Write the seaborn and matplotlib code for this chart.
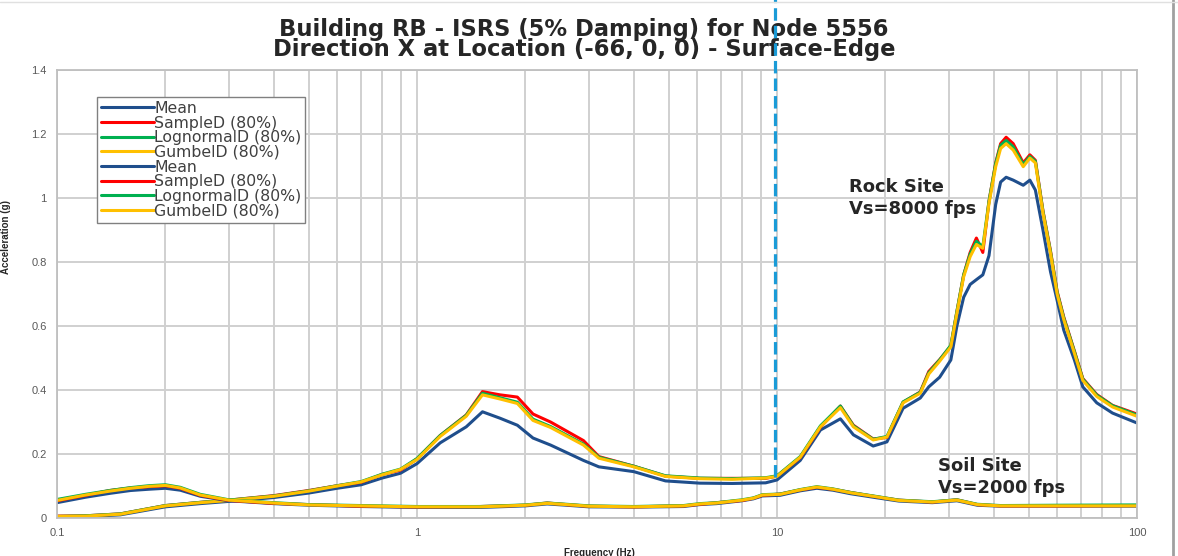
import numpy as np
import pandas as pd
import matplotlib.pyplot as plt
import seaborn as sns
from matplotlib.ticker import LogLocator, NullFormatter, NullLocator
from matplotlib.lines import Line2D

sns.set_style('white')
plt.rcParams['font.family'] = ['Liberation Sans', 'DejaVu Sans']

# Rock site (Vs=8000 fps) spectra
rock_freq = [0.1, 0.12, 0.15, 0.2, 0.25, 0.3, 0.4, 0.5, 0.6, 0.7,
             0.8, 0.9, 1.0, 1.16, 1.37, 1.52, 1.7, 1.9, 2.1, 2.35,
             2.9, 3.2, 4.0, 4.9, 6.1, 7.5, 9.3, 10.0, 11.6, 13.2,
             15.0, 16.3, 18.5, 20.2, 22.4, 25.0, 26.4, 28.3, 30.4, 31.6,
             33.0, 34.4, 35.8, 37.3, 38.8, 40.5, 41.8, 43.3, 45.3, 48.3,
             50.4, 52.2, 54.8, 57.5, 60.0, 62.6, 67.0, 70.7, 77.3, 85.5,
             100.0]
rock_mean = [0.003, 0.004, 0.010, 0.035, 0.045, 0.052, 0.064, 0.078, 0.093, 0.104,
             0.125, 0.140, 0.170, 0.235, 0.285, 0.332, 0.312, 0.290, 0.250, 0.228,
             0.180, 0.160, 0.145, 0.116, 0.109, 0.108, 0.110, 0.119, 0.180, 0.275,
             0.310, 0.260, 0.225, 0.238, 0.343, 0.375, 0.410, 0.440, 0.494, 0.600,
             0.690, 0.730, 0.745, 0.760, 0.820, 0.980, 1.050, 1.065, 1.056, 1.040,
             1.056, 1.025, 0.900, 0.770, 0.680, 0.587, 0.494, 0.410, 0.360, 0.328,
             0.297]
rock_sample = [0.006, 0.007, 0.013, 0.039, 0.049, 0.056, 0.070, 0.086, 0.101, 0.112,
               0.136, 0.150, 0.185, 0.258, 0.322, 0.395, 0.385, 0.378, 0.325, 0.300,
               0.242, 0.192, 0.162, 0.131, 0.124, 0.124, 0.124, 0.131, 0.189, 0.284,
               0.350, 0.290, 0.247, 0.252, 0.362, 0.394, 0.458, 0.495, 0.538, 0.645,
               0.760, 0.830, 0.875, 0.830, 0.990, 1.110, 1.170, 1.190, 1.170, 1.110,
               1.135, 1.118, 0.960, 0.835, 0.708, 0.628, 0.522, 0.436, 0.386, 0.352,
               0.325]
rock_lognormal = [0.005, 0.007, 0.013, 0.039, 0.049, 0.056, 0.069, 0.085, 0.101, 0.114,
                  0.137, 0.153, 0.186, 0.258, 0.321, 0.390, 0.376, 0.362, 0.309, 0.286,
                  0.231, 0.190, 0.162, 0.132, 0.125, 0.123, 0.126, 0.132, 0.192, 0.288,
                  0.350, 0.288, 0.246, 0.255, 0.363, 0.393, 0.454, 0.494, 0.540, 0.646,
                  0.760, 0.825, 0.865, 0.848, 0.990, 1.108, 1.165, 1.180, 1.160, 1.105,
                  1.130, 1.115, 0.958, 0.832, 0.705, 0.625, 0.520, 0.434, 0.384, 0.351,
                  0.322]
rock_gumbel = [0.005, 0.006, 0.012, 0.038, 0.048, 0.055, 0.068, 0.084, 0.100, 0.113,
               0.135, 0.152, 0.183, 0.255, 0.318, 0.385, 0.372, 0.358, 0.305, 0.283,
               0.228, 0.187, 0.160, 0.130, 0.123, 0.121, 0.125, 0.130, 0.190, 0.285,
               0.345, 0.285, 0.244, 0.253, 0.360, 0.390, 0.450, 0.490, 0.535, 0.640,
               0.754, 0.817, 0.855, 0.843, 0.983, 1.098, 1.155, 1.170, 1.150, 1.098,
               1.125, 1.110, 0.953, 0.827, 0.700, 0.620, 0.515, 0.430, 0.380, 0.347,
               0.318]

# Soil site (Vs=2000 fps) spectra
soil_freq = [0.1, 0.12, 0.14, 0.16, 0.18, 0.2, 0.22, 0.25, 0.3, 0.4,
             0.5, 0.7, 1.0, 1.5, 2.0, 2.3, 2.6, 3.0, 4.0, 5.5,
             6.1, 6.8, 8.0, 8.6, 9.1, 10.2, 11.6, 12.9, 14.3, 16.0,
             19.0, 21.8, 27.0, 31.6, 36.0, 41.7, 60.0, 100.0]
soil_mean = [0.048, 0.065, 0.077, 0.086, 0.090, 0.093, 0.087, 0.068, 0.054, 0.045,
             0.040, 0.036, 0.033, 0.033, 0.038, 0.044, 0.040, 0.035, 0.034, 0.036,
             0.042, 0.045, 0.054, 0.060, 0.069, 0.071, 0.085, 0.093, 0.087, 0.076,
             0.063, 0.053, 0.048, 0.054, 0.040, 0.037, 0.037, 0.037]
soil_sample = [0.054, 0.071, 0.086, 0.094, 0.098, 0.101, 0.093, 0.071, 0.055, 0.046,
               0.042, 0.037, 0.035, 0.036, 0.040, 0.047, 0.042, 0.037, 0.035, 0.038,
               0.043, 0.048, 0.055, 0.062, 0.071, 0.075, 0.088, 0.096, 0.090, 0.080,
               0.066, 0.056, 0.050, 0.057, 0.042, 0.038, 0.038, 0.039]
soil_lognormal = [0.058, 0.074, 0.086, 0.095, 0.101, 0.104, 0.096, 0.074, 0.057, 0.048,
                  0.042, 0.039, 0.036, 0.036, 0.041, 0.047, 0.043, 0.038, 0.036, 0.039,
                  0.045, 0.048, 0.057, 0.063, 0.073, 0.075, 0.089, 0.098, 0.091, 0.080,
                  0.067, 0.056, 0.051, 0.057, 0.043, 0.039, 0.040, 0.041]
soil_gumbel = [0.055, 0.072, 0.084, 0.093, 0.099, 0.102, 0.094, 0.072, 0.056, 0.047,
               0.041, 0.038, 0.035, 0.035, 0.040, 0.046, 0.042, 0.037, 0.035, 0.038,
               0.044, 0.047, 0.056, 0.062, 0.072, 0.074, 0.088, 0.097, 0.090, 0.079,
               0.066, 0.055, 0.050, 0.056, 0.042, 0.038, 0.038, 0.038]

labels = ['Mean', 'SampleD (80%)', 'LognormalD (80%)', 'GumbelD (80%)']
colors = ['#1f4e8c', '#ff0000', '#00b050', '#ffc000']
marker_freq = 9.87

fig = plt.figure(figsize=(11.78, 5.56), dpi=100)
ax = fig.add_axes([0.0484, 0.0683, 0.9168, 0.8057])

rock = [rock_mean, rock_sample, rock_lognormal, rock_gumbel]
soil = [soil_mean, soil_sample, soil_lognormal, soil_gumbel]

for vals, lab, col in zip(rock, labels, colors):
    sns.lineplot(x=rock_freq, y=vals, color=col, lw=2.2, label=lab, ax=ax)
for vals, lab, col in zip(soil, labels, colors):
    sns.lineplot(x=soil_freq, y=vals, color=col, lw=2.2, label=lab, ax=ax)

ax.set_xscale('log')
ax.set_xlim(0.1, 100)
ax.set_ylim(0, 1.4)
ax.set_xticks([0.1, 1, 10, 100])
ax.set_xticklabels(['0.1', '1', '10', '100'])
ax.xaxis.set_minor_locator(LogLocator(base=10, subs=np.arange(2, 10)))
ax.xaxis.set_minor_formatter(NullFormatter())
ax.set_yticks(np.arange(0, 1.41, 0.2))
ax.set_yticklabels(['0', '0.2', '0.4', '0.6', '0.8', '1', '1.2', '1.4'])
ax.yaxis.set_minor_locator(NullLocator())
ax.grid(True, which='both', color='#d0d0d0', lw=1.4)
ax.set_axisbelow(True)
ax.tick_params(axis='both', which='major', labelsize=8, labelcolor='#595959',
               color='#a6a6a6', length=4, width=1, direction='out')
ax.tick_params(axis='x', which='minor', length=0)
for sp in ax.spines.values():
    sp.set_color('#bfbfbf')
    sp.set_linewidth(1.3)

wide = ['DejaVu Sans']
ax.set_title('Building RB - ISRS (5% Damping) for Node 5556\n'
             'Direction X at Location (-66, 0, 0) - Surface-Edge',
             fontsize=16.3, fontweight='bold', color='#262626', pad=10,
             linespacing=0.85, x=0.488, family=wide)
ax.set_xlabel('Frequency (Hz)', fontsize=7, fontweight='bold', color='#262626')
ax.xaxis.set_label_coords(0.502, -0.067)
ax.set_ylabel('Acceleration (g)', fontsize=7, fontweight='bold', color='#262626')
ax.yaxis.set_label_coords(-0.043, 0.627)

ax.text(15.8, 1.0, 'Rock Site\nVs=8000 fps', fontsize=13, fontweight='bold',
        color='#262626', ha='left', va='center', linespacing=1.3, family=wide)
ax.text(28, 0.128, 'Soil Site\nVs=2000 fps', fontsize=13, fontweight='bold',
        color='#262626', ha='left', va='center', linespacing=1.3, family=wide)

leg = ax.legend(loc='upper left', bbox_to_anchor=(0.037, 0.94),
                prop={'family': wide, 'size': 11.3},
                labelspacing=-0.02, handlelength=3.4, handletextpad=0.0,
                borderpad=0.25, borderaxespad=0, frameon=True, fancybox=False,
                edgecolor='#808080', framealpha=1)
for t in leg.get_texts():
    t.set_color('#404040')

# dashed marker line near 10 Hz
ax.plot([marker_freq, marker_freq], [0.128, 1.65], color='#1a9bd7', lw=2.3,
        dashes=(3.9, 1.6), clip_on=False, zorder=10)

fig.add_artist(Line2D([0.9958, 0.9958], [0, 1], transform=fig.transFigure,
                      color='#a0a0a0', lw=2))
fig.add_artist(Line2D([0, 1], [0.9964, 0.9964], transform=fig.transFigure,
                      color='#e0e0e0', lw=1))

fig.savefig('out.png', dpi=100)
